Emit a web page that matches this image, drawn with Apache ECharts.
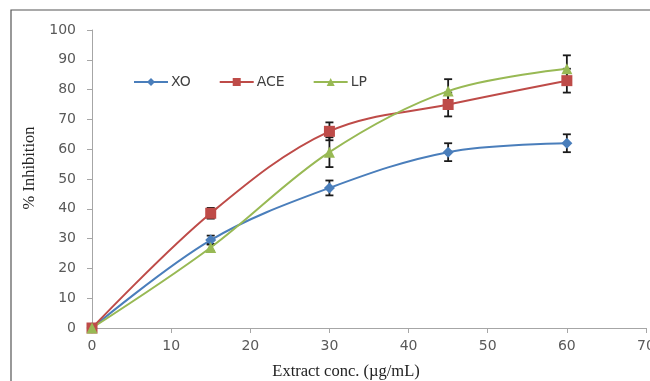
<!DOCTYPE html>
<html><head><meta charset="utf-8">
<script src="https://cdn.jsdelivr.net/npm/echarts@6/dist/echarts.min.js"></script>
<style>html,body{margin:0;padding:0;background:#fff}#c{width:650px;height:381px}</style>
</head><body><div id="c"></div>
<script>
const conc = [0, 15, 30, 45, 60];
const xoVals = [0, 29.5, 47, 59, 62];
const aceVals = [0, 38.5, 66, 75, 83];
const lpVals = [0, 27, 59, 79.5, 87];
const xoErr = [0, 1.5, 2.5, 3, 3];
const aceErr = [0, 1.8, 3, 4, 4];
const lpErr = [0, 1.2, 5, 4, 4.5];
const xTicks = [0, 10, 20, 30, 40, 50, 60, 70];
const yTicks = [0, 10, 20, 30, 40, 50, 60, 70, 80, 90, 100];
const xTitle = 'Extract conc. (µg/mL)';
const yTitle = '% Inhibition';

const chart = echarts.init(document.getElementById('c'));
const colors = {XO: '#4a7ebb', ACE: '#be4b48', LP: '#98b954'};
const serif = 'Liberation Serif, Times New Roman, serif';
const sans = 'DejaVu Sans, Verdana, sans-serif';
function pts(v) { return conc.map((x, i) => [x, v[i]]); }
function errData(v, e) { return conc.map((x, i) => [x, v[i] - e[i], v[i] + e[i]]).filter((d, i) => e[i] > 0); }
function errSeries(v, e) {
  return {
    type: 'custom', silent: true, z: 5,
    data: errData(v, e),
    renderItem: function (params, api) {
      const x = api.value(0);
      const lo = api.coord([x, api.value(1)]);
      const hi = api.coord([x, api.value(2)]);
      const w = 4;
      const st = {stroke: '#1a1a1a', lineWidth: 1.8};
      return {type: 'group', children: [
        {type: 'line', shape: {x1: lo[0], y1: lo[1], x2: hi[0], y2: hi[1]}, style: st},
        {type: 'line', shape: {x1: lo[0] - w, y1: lo[1], x2: lo[0] + w, y2: lo[1]}, style: st},
        {type: 'line', shape: {x1: hi[0] - w, y1: hi[1], x2: hi[0] + w, y2: hi[1]}, style: st}
      ]};
    }
  };
}
function lineSeries(name, v, symbol, size) {
  return {
    name: name, type: 'line', data: pts(v), smooth: 0.35,
    symbol: symbol, symbolSize: size, z: 6,
    lineStyle: {color: colors[name], width: 2},
    itemStyle: {color: colors[name]}
  };
}
chart.setOption({
  animation: false,
  graphic: [
    {type: 'rect', shape: {x: 11, y: 10, width: 700, height: 400}, style: {fill: 'none', stroke: '#555', lineWidth: 1.2}},
    {type: 'text', x: 346, y: 372, style: {text: xTitle, font: '16.5px ' + serif, fill: '#222', align: 'center', verticalAlign: 'middle'}},
    {type: 'text', x: 30, y: 168, rotation: Math.PI / 2, style: {text: yTitle, font: '16.5px ' + serif, fill: '#222', align: 'center', verticalAlign: 'middle'}}
  ],
  grid: {left: 92, right: 4, top: 30, bottom: 53, containLabel: false, outerBoundsMode: 'none'},
  legend: {
    left: 133, top: 75, padding: 0, itemWidth: 34, itemHeight: 10, itemGap: 28,
    textStyle: {fontFamily: sans, fontSize: 14, color: '#404040', padding: [0, 0, 0, -2]},
    data: ['XO', 'ACE', 'LP']
  },
  xAxis: {
    type: 'value', min: 0, max: 70, interval: 10,
    axisLine: {lineStyle: {color: '#a6a6a6'}},
    axisTick: {show: true, length: 5, lineStyle: {color: '#a6a6a6'}},
    axisLabel: {fontFamily: sans, fontSize: 14, color: '#595959', margin: 11, hideOverlap: false,
      formatter: v => xTicks.includes(v) ? String(v) : ''},
    splitLine: {show: false}
  },
  yAxis: {
    type: 'value', min: 0, max: 100, interval: 10,
    axisLine: {show: true, lineStyle: {color: '#a6a6a6'}},
    axisTick: {show: true, length: 5, lineStyle: {color: '#a6a6a6'}},
    axisLabel: {fontFamily: sans, fontSize: 14, color: '#595959', margin: 16,
      formatter: v => yTicks.includes(v) ? String(v) : ''},
    splitLine: {show: false}
  },
  series: [
    lineSeries('XO', xoVals, 'diamond', 11),
    lineSeries('ACE', aceVals, 'rect', 11),
    lineSeries('LP', lpVals, 'triangle', 11),
    errSeries(xoVals, xoErr),
    errSeries(aceVals, aceErr),
    errSeries(lpVals, lpErr)
  ]
});
</script></body></html>
